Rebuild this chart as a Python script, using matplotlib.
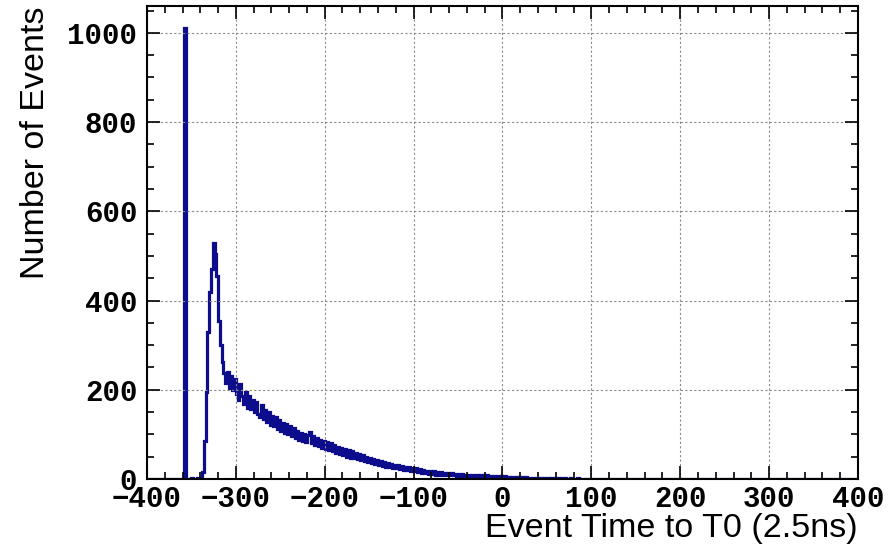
import numpy as np
import matplotlib.pyplot as plt
from matplotlib.ticker import MultipleLocator

# histogram binning: 400 bins of width 2 from -400 to 400
bin_lo = -400
bin_hi = 400
bin_width = 2

# counts per bin, starting at the bin [-358, -356)
first_bin = -358
counts_read = [
    1010, 0, 1, 0, 2, 1, 0, 3, 2, 1,          # -358 .. -340
    15, 85, 195, 330, 420, 470, 530, 505, 455, 355,   # -338 .. -320
    300, 262, 238, 215, 240, 205, 232, 200, 225, 190,  # -318 .. -300
    178, 212, 185, 168, 195, 160, 185, 158, 178, 150,  # -298 .. -280
    172, 145, 140, 165, 135, 155, 128, 150, 122, 142,  # -278 .. -260
    118, 138, 112, 132, 108, 126, 104, 124, 100, 118,  # -258 .. -240
    96, 114, 92, 108, 88, 104, 86, 100, 82, 98,        # -238 .. -220
    106, 80, 96, 76, 92, 74, 88, 70, 86, 68,           # -218 .. -200
    84, 64, 80, 62, 76, 58, 72, 56, 70, 54,            # -198 .. -180
    68, 50, 64, 48, 62, 46, 58, 44, 56, 42,            # -178 .. -160
    54, 40, 50, 38, 48, 36, 45, 34, 42, 32,            # -158 .. -140
    40, 30, 38, 28, 36, 26, 34, 25, 32, 24,            # -138 .. -120
    31, 22, 29, 21, 27, 20, 26, 18, 24, 17,            # -118 .. -100
    25, 15, 22, 14, 21, 13, 19, 12, 18, 12,            # -98 .. -80
    17, 10, 16, 10, 15, 9, 14, 9, 13, 8,               # -78 .. -60
    13, 8, 12, 7, 11, 7, 11, 6, 10, 6,                 # -58 .. -40
    10, 5, 9, 5, 9, 5, 8, 4, 8, 4,                     # -38 .. -20
    8, 4, 7, 3, 7, 3, 6, 3, 6, 3,                      # -18 .. 0
    6, 2, 5, 2, 5, 2, 4, 2, 4, 2,                      # 2 .. 20
    4, 1, 4, 1, 3, 2, 3, 1, 3, 1,                      # 22 .. 40
    3, 1, 2, 1, 3, 1, 2, 0, 2, 1,                      # 42 .. 60
    2, 0, 2, 1, 2, 0, 1, 2, 0, 1,                      # 62 .. 80
    1, 2, 0, 1, 1, 0, 1, 1, 0, 1,                      # 82 .. 100
    0, 1, 1, 0, 1, 1, 0, 1, 0, 1,                      # 102 .. 120
    0, 1, 0, 1, 0, 0, 1, 0, 0, 0,                      # 122 .. 140
    1, 0, 0, 1, 0, 0, 0, 1, 0, 0,                      # 142 .. 160
    0, 1, 0, 0, 0, 0, 1, 0, 0, 0,                      # 162 .. 180
]

edges = np.arange(bin_lo, bin_hi + bin_width, bin_width)
counts = np.zeros(len(edges) - 1)
i0 = (first_bin - bin_lo) // bin_width
counts[i0:i0 + len(counts_read)] = counts_read

fig = plt.figure(figsize=(8.94, 5.53), dpi=100)
ax = fig.add_axes([0.1644, 0.1338, 0.7953, 0.8552])

ax.stairs(counts, edges, color='#0c0c8c', linewidth=2.3, baseline=None)

ax.set_xlim(bin_lo, bin_hi)
ax.set_ylim(0, 1060)

ax.xaxis.set_major_locator(MultipleLocator(100))
ax.xaxis.set_minor_locator(MultipleLocator(20))
ax.yaxis.set_major_locator(MultipleLocator(200))
ax.yaxis.set_minor_locator(MultipleLocator(50))

ax.grid(True, which='major', color='#8a8a8a', linestyle=(0, (2, 2)), linewidth=0.8)
ax.tick_params(which='both', direction='in', top=True, right=True, width=1.2)
ax.tick_params(which='major', length=9.5)
ax.tick_params(which='minor', length=5)
ax.tick_params(axis='y', pad=7)
ax.tick_params(axis='x', pad=4)

for lab in ax.get_xticklabels() + ax.get_yticklabels():
    lab.set_fontfamily('Liberation Mono')
    lab.set_fontweight('bold')
    lab.set_fontsize(21)

for sp in ax.spines.values():
    sp.set_linewidth(1.5)

ax.set_xlabel('Event Time to T0 (2.5ns)', fontsize=24.5, family='Liberation Sans')
ax.xaxis.set_label_coords(1.0, -0.072)
ax.xaxis.label.set_ha('right')
ax.xaxis.label.set_va('top')

ax.set_ylabel('Number of Events', fontsize=24.5, family='Liberation Sans')
ax.yaxis.set_label_coords(-0.157, 1.0)
ax.yaxis.label.set_ha('right')
ax.yaxis.label.set_va('center')

fig.savefig('out.png', dpi=100)
